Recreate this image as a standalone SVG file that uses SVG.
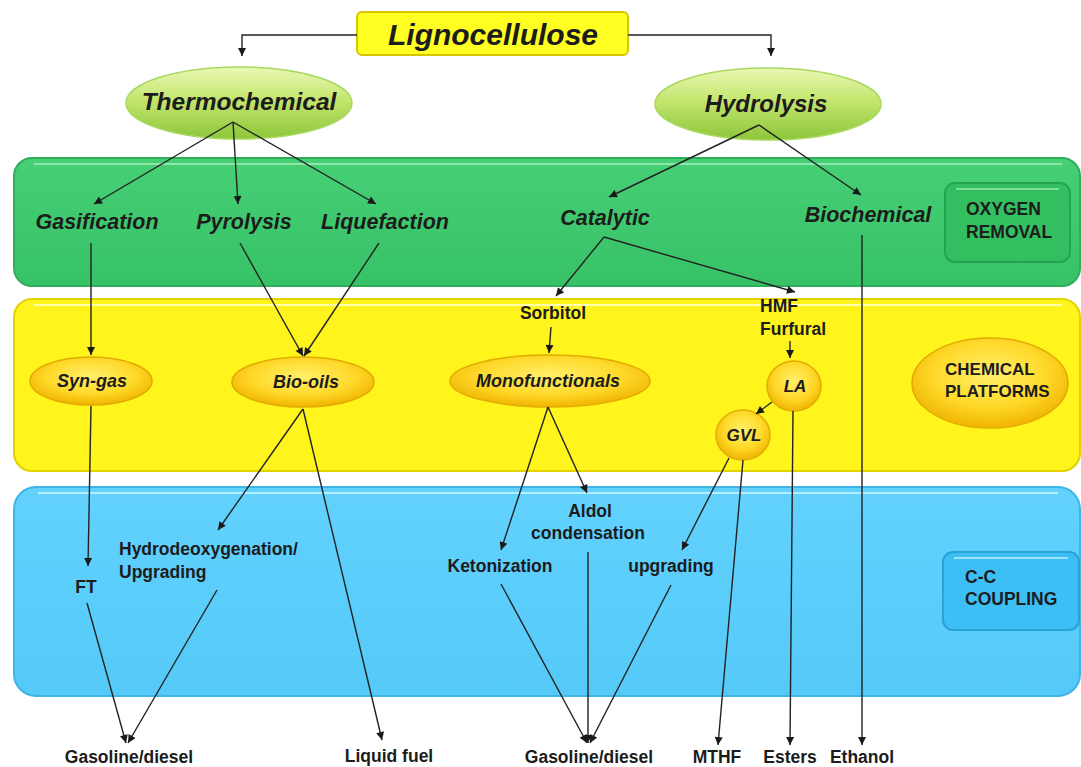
<svg xmlns="http://www.w3.org/2000/svg" width="1081" height="767" viewBox="0 0 1081 767">
<style>
.proc{font-family:"Liberation Sans",Arial,sans-serif;font-weight:bold;font-style:italic;fill:#1c1c1c;text-anchor:middle}
.lbl{font-family:"Liberation Sans",Arial,sans-serif;font-weight:bold;fill:#1c1c1c}
.c{text-anchor:middle}
.ln{stroke:#222;stroke-width:1.4;fill:none}
</style>
<defs>
<marker id="ah" viewBox="0 0 10 10" refX="10" refY="5" markerWidth="9" markerHeight="8" markerUnits="userSpaceOnUse" orient="auto">
<path d="M0,0 L10,5 L0,10 z" fill="#1a1a1a"/>
</marker>
<linearGradient id="gEl" x1="0" y1="0" x2="0" y2="1">
<stop offset="0" stop-color="#eaf8b4"/>
<stop offset="0.45" stop-color="#c4e66e"/>
<stop offset="1" stop-color="#8cc63a"/>
</linearGradient>
<radialGradient id="yEl" cx="0.5" cy="0.4" r="0.6">
<stop offset="0" stop-color="#fff06a"/>
<stop offset="0.6" stop-color="#ffd92a"/>
<stop offset="1" stop-color="#f0b400"/>
</radialGradient>
<linearGradient id="gBand" x1="0" y1="0" x2="0" y2="1">
<stop offset="0" stop-color="#46cf74"/>
<stop offset="1" stop-color="#38c267"/>
</linearGradient>
<linearGradient id="bBand" x1="0" y1="0" x2="0" y2="1">
<stop offset="0" stop-color="#62d2fd"/>
<stop offset="1" stop-color="#55c9f8"/>
</linearGradient>
</defs>

<!-- bands -->
<g id="band-oxygen">
<rect x="14" y="158" width="1066" height="128" rx="18" fill="url(#gBand)" stroke="#2fae5a" stroke-width="2"/>
<path d="M34,164 H1062" stroke="#8fe6a8" stroke-width="2"/>
</g>
<g id="band-platforms">
<rect x="14" y="299" width="1066" height="172" rx="18" fill="#fff41c" stroke="#e2d200" stroke-width="2"/>
<path d="M34,305 H1062" stroke="#ffffb0" stroke-width="2"/>
</g>
<g id="band-coupling">
<rect x="14" y="487" width="1066" height="209" rx="22" fill="url(#bBand)" stroke="#3fb4e6" stroke-width="2"/>
<path d="M38,493 H1058" stroke="#b8ecff" stroke-width="2"/>
</g>

<!-- nodes -->
<g id="lignocellulose">
<rect x="357" y="12" width="271" height="43" rx="5" fill="#ffff22" stroke="#d6c600" stroke-width="2"/>
<text class="proc" x="493" y="45" font-size="30">Lignocellulose</text>
</g>
<g id="thermochemical">
<ellipse cx="239" cy="103" rx="113" ry="36" fill="url(#gEl)" stroke="#a8d860" stroke-width="1.5"/>
<text class="proc" x="239" y="110" font-size="24.5">Thermochemical</text>
</g>
<g id="hydrolysis">
<ellipse cx="768" cy="104" rx="113" ry="36" fill="url(#gEl)" stroke="#a8d860" stroke-width="1.5"/>
<text class="proc" x="766" y="112" font-size="24">Hydrolysis</text>
</g>
<g id="gasification"><text class="proc" x="97" y="229" font-size="21.5">Gasification</text></g>
<g id="pyrolysis"><text class="proc" x="244" y="229" font-size="21.5">Pyrolysis</text></g>
<g id="liquefaction"><text class="proc" x="385" y="229" font-size="21.5">Liquefaction</text></g>
<g id="catalytic"><text class="proc" x="605" y="225" font-size="21.5">Catalytic</text></g>
<g id="biochemical"><text class="proc" x="868" y="222" font-size="21.5">Biochemical</text></g>
<g id="oxygen-removal">
<rect x="945" y="183" width="125" height="79" rx="10" fill="#33bf60" stroke="#26a350" stroke-width="2"/>
<path d="M956,189 H1059" stroke="#7fe09c" stroke-width="2"/>
<text class="lbl" x="966" y="215" font-size="17.5">OXYGEN</text>
<text class="lbl" x="966" y="238" font-size="17.5">REMOVAL</text>
</g>

<g id="syn-gas">
<ellipse cx="91" cy="381" rx="61" ry="24" fill="url(#yEl)" stroke="#e3aa00" stroke-width="1.5"/>
<text class="proc" x="92" y="387" font-size="18">Syn-gas</text>
</g>
<g id="bio-oils">
<ellipse cx="303" cy="382" rx="71" ry="25" fill="url(#yEl)" stroke="#e3aa00" stroke-width="1.5"/>
<text class="proc" x="306" y="388" font-size="18">Bio-oils</text>
</g>
<g id="monofunctionals">
<ellipse cx="550" cy="381" rx="100" ry="26" fill="url(#yEl)" stroke="#e3aa00" stroke-width="1.5"/>
<text class="proc" x="548" y="387" font-size="18">Monofunctionals</text>
</g>
<g id="sorbitol"><text class="lbl c" x="553" y="319" font-size="17.5">Sorbitol</text></g>
<g id="hmf-furfural">
<text class="lbl" x="760" y="312" font-size="17.5">HMF</text>
<text class="lbl" x="760" y="335" font-size="17.5">Furfural</text>
</g>
<g id="la">
<ellipse cx="794" cy="386" rx="27" ry="25" fill="url(#yEl)" stroke="#e3aa00" stroke-width="1.5"/>
<text class="proc" x="795" y="392" font-size="17">LA</text>
</g>
<g id="gvl">
<ellipse cx="743" cy="435" rx="27" ry="25" fill="url(#yEl)" stroke="#e3aa00" stroke-width="1.5"/>
<text class="proc" x="744" y="441" font-size="17">GVL</text>
</g>
<g id="chemical-platforms">
<ellipse cx="990" cy="383" rx="78" ry="45" fill="url(#yEl)" stroke="#e3aa00" stroke-width="1.5"/>
<text class="lbl" x="945" y="375" font-size="17">CHEMICAL</text>
<text class="lbl" x="945" y="397" font-size="17">PLATFORMS</text>
</g>

<g id="ft"><text class="lbl c" x="86" y="593" font-size="17.5">FT</text></g>
<g id="hydrodeoxygenation">
<text class="lbl" x="119" y="555" font-size="17.5">Hydrodeoxygenation/</text>
<text class="lbl" x="119" y="578" font-size="17.5">Upgrading</text>
</g>
<g id="ketonization"><text class="lbl c" x="500" y="572" font-size="17.5">Ketonization</text></g>
<g id="aldol">
<text class="lbl c" x="590" y="517" font-size="17.5">Aldol</text>
<text class="lbl c" x="588" y="539" font-size="17.5">condensation</text>
</g>
<g id="upgrading"><text class="lbl c" x="671" y="572" font-size="17.5">upgrading</text></g>
<g id="cc-coupling">
<rect x="943" y="552" width="136" height="78" rx="10" fill="#3dbff5" stroke="#2aa2d8" stroke-width="2"/>
<path d="M954,558 H1068" stroke="#9fe2ff" stroke-width="2"/>
<text class="lbl" x="965" y="583" font-size="17.5">C-C</text>
<text class="lbl" x="965" y="605" font-size="17.5">COUPLING</text>
</g>

<g id="gasoline-diesel-1"><text class="lbl c" x="129" y="763" font-size="17.5">Gasoline/diesel</text></g>
<g id="liquid-fuel"><text class="lbl c" x="389" y="762" font-size="17.5">Liquid fuel</text></g>
<g id="gasoline-diesel-2"><text class="lbl c" x="589" y="763" font-size="17.5">Gasoline/diesel</text></g>
<g id="mthf"><text class="lbl c" x="717" y="763" font-size="17.5">MTHF</text></g>
<g id="esters"><text class="lbl c" x="790" y="763" font-size="17.5">Esters</text></g>
<g id="ethanol"><text class="lbl c" x="862" y="763" font-size="17.5">Ethanol</text></g>

<!-- connectors -->
<g id="connectors" class="ln">
<path class="ln" d="M357,35 H242 V56" marker-end="url(#ah)"/>
<path class="ln" d="M628,35 H771 V56" marker-end="url(#ah)"/>
<path class="ln" d="M233,122 L94,204" marker-end="url(#ah)"/>
<path class="ln" d="M233,122 L238,204" marker-end="url(#ah)"/>
<path class="ln" d="M233,122 L376,204" marker-end="url(#ah)"/>
<path class="ln" d="M759,125 L609,197" marker-end="url(#ah)"/>
<path class="ln" d="M759,125 L861,195" marker-end="url(#ah)"/>
<path class="ln" d="M91,243 V355" marker-end="url(#ah)"/>
<path class="ln" d="M240,243 L303,356" marker-end="url(#ah)"/>
<path class="ln" d="M379,243 L304,356" marker-end="url(#ah)"/>
<path class="ln" d="M604,237 L556,296" marker-end="url(#ah)"/>
<path class="ln" d="M604,237 L795,292" marker-end="url(#ah)"/>
<path class="ln" d="M862,235 V745" marker-end="url(#ah)"/>
<path class="ln" d="M551,327 L549,353" marker-end="url(#ah)"/>
<path class="ln" d="M790,341 V358" marker-end="url(#ah)"/>
<path class="ln" d="M772,402 L756,414" marker-end="url(#ah)"/>
<path class="ln" d="M91,406 L88,566" marker-end="url(#ah)"/>
<path class="ln" d="M303,409 L218,530" marker-end="url(#ah)"/>
<path class="ln" d="M303,409 L382,740" marker-end="url(#ah)"/>
<path class="ln" d="M548,407 L501,550" marker-end="url(#ah)"/>
<path class="ln" d="M548,407 L587,493" marker-end="url(#ah)"/>
<path class="ln" d="M729,458 L682,550" marker-end="url(#ah)"/>
<path class="ln" d="M743,460 L718,745" marker-end="url(#ah)"/>
<path class="ln" d="M793,411 L790,745" marker-end="url(#ah)"/>
<path class="ln" d="M87,603 L126,743" marker-end="url(#ah)"/>
<path class="ln" d="M217,590 L128,743" marker-end="url(#ah)"/>
<path class="ln" d="M501,584 L587,743" marker-end="url(#ah)"/>
<path class="ln" d="M588,552 V743" marker-end="url(#ah)"/>
<path class="ln" d="M671,585 L590,743" marker-end="url(#ah)"/>
</g>
</svg>
